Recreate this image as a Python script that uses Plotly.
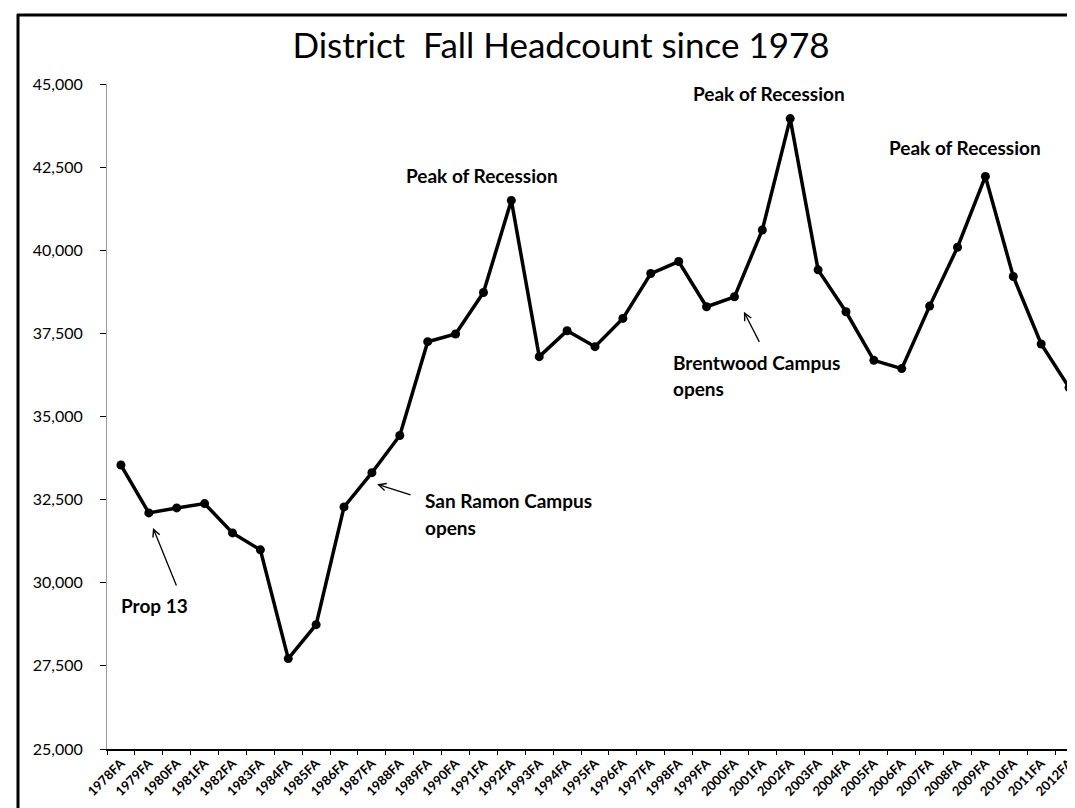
import plotly.graph_objects as go

# ---- data ----
terms = ["1978FA", "1979FA", "1980FA", "1981FA", "1982FA", "1983FA", "1984FA",
         "1985FA", "1986FA", "1987FA", "1988FA", "1989FA", "1990FA", "1991FA",
         "1992FA", "1993FA", "1994FA", "1995FA", "1996FA", "1997FA", "1998FA",
         "1999FA", "2000FA", "2001FA", "2002FA", "2003FA", "2004FA", "2005FA",
         "2006FA", "2007FA", "2008FA", "2009FA", "2010FA", "2011FA", "2012FA"]
headcount = [33540, 32100, 32250, 32380, 31500, 30990, 27720,
             28740, 32280, 33310, 34430, 37250, 37480, 38730,
             41500, 36800, 37580, 37100, 37950, 39300, 39660,
             38300, 38600, 40610, 43960, 39410, 38150, 36690,
             36440, 38320, 40090, 42220, 39210, 37180, 35870]
y_ticks = [25000, 27500, 30000, 32500, 35000, 37500, 40000, 42500, 45000]

FONT = "Lato"

fig = go.Figure()
fig.add_trace(go.Scatter(
    x=terms, y=headcount, mode="lines+markers",
    line=dict(color="black", width=3.5),
    marker=dict(color="black", size=9),
    hoverinfo="x+y", showlegend=False, cliponaxis=False,
))

ann = []
def text(x, y, s, anchor="center", size=19):
    ann.append(dict(x=x, y=y, xref="x", yref="y", text="<b>%s</b>" % s,
                    showarrow=False, xanchor=anchor, yanchor="middle",
                    font=dict(family=FONT, size=size, color="black")))

def arrow(hx, hy, tx, ty):
    ann.append(dict(x=hx, y=hy, xref="x", yref="y", ax=tx, ay=ty,
                    axref="x", ayref="y", text="", showarrow=True,
                    arrowhead=5, arrowsize=1.1, arrowwidth=1.3,
                    arrowcolor="black", standoff=0, startstandoff=0))

text(12.96, 42240, "Peak of Recession")
text(23.25, 44710, "Peak of Recession")
text(30.27, 43100, "Peak of Recession")
text(19.73, 36624, "Brentwood Campus", "left")
text(19.73, 35840, "opens", "left")
arrow(22.34, 38150, 22.92, 37200)
text(10.83, 32460, "San Ramon Campus", "left")
text(10.83, 31670, "opens", "left")
arrow(9.19, 32960, 10.44, 32630)
text(1.19, 29320, "Prop 13")
arrow(1.15, 31650, 2.01, 29870)

W, H = 1075, 808
L, R, T, B = 99, 0, 76, 67
pw, ph = W - L - R, H - T - B
def px(x):
    return (x - L) / pw
def py(y):
    return (H - B - y) / ph

shapes = [
    dict(type="line", xref="paper", yref="paper", x0=px(10), x1=px(10),
         y0=py(6), y1=py(808), line=dict(color="black", width=3)),
    dict(type="line", xref="paper", yref="paper", x0=px(9), x1=px(1075),
         y0=py(7), y1=py(7), line=dict(color="black", width=3)),
]

fig.update_layout(
    width=W, height=H,
    margin=dict(l=L, r=R, t=T, b=B),
    paper_bgcolor="white", plot_bgcolor="white",
    title=dict(text="District\u00a0 Fall Headcount since 1978",
               x=553 / W, xanchor="center", y=1 - 38 / H, yanchor="middle",
               font=dict(family=FONT, size=35, color="black")),
    annotations=ann, shapes=shapes,
    xaxis=dict(type="category", range=[-0.5, 34.5], tickangle=-45,
               tickson="boundaries", ticks="outside", ticklen=4,
               tickcolor="black", showline=True, linecolor="black",
               linewidth=1.5, showgrid=False, zeroline=False,
               tickfont=dict(family=FONT, size=13, color="black",
                             weight="bold")),
    yaxis=dict(range=[25000, 45000], tickvals=y_ticks,
               ticktext=["{:,}".format(v) for v in y_ticks],
               ticks="outside", ticklen=6, tickcolor="black",
               showline=True, linecolor="#999999", linewidth=1,
               showgrid=False, zeroline=False, ticklabelstandoff=14,
               tickfont=dict(family=FONT, size=16, color="black")),
)

fig.write_html("out.html")
